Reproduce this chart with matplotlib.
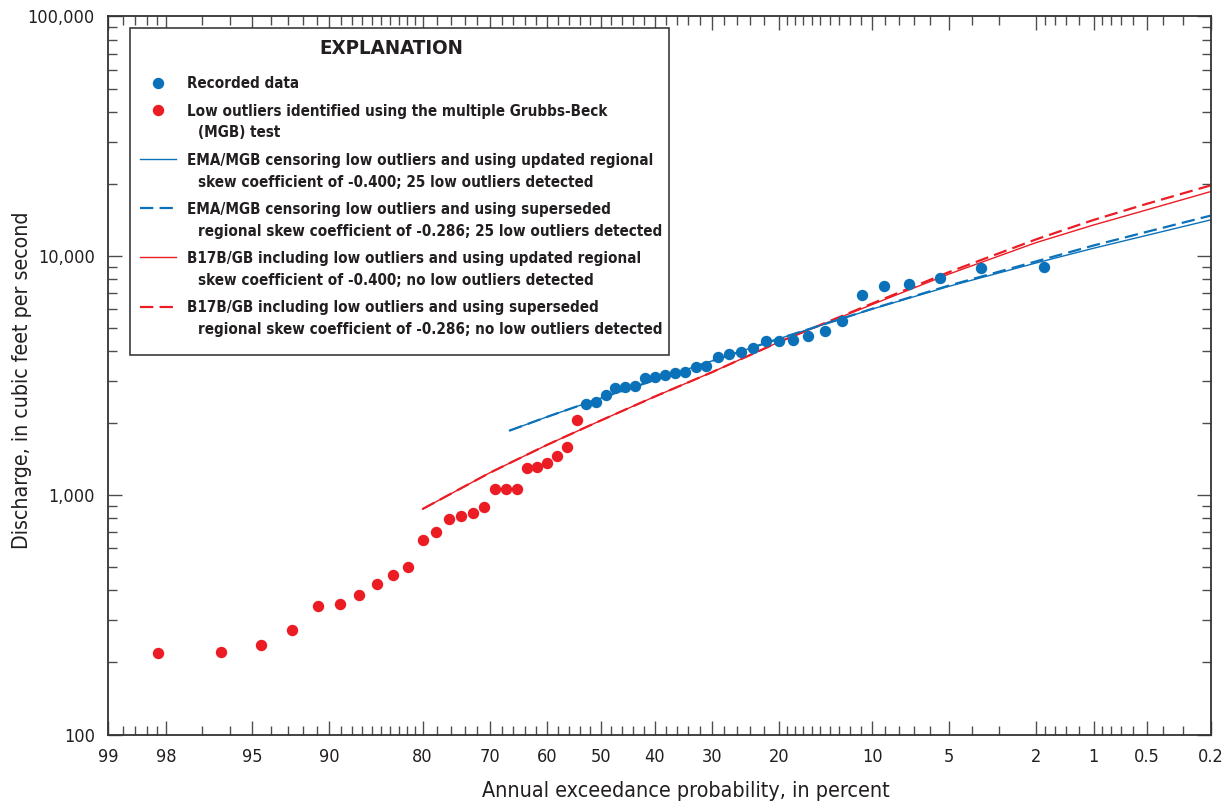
import math
import numpy as np
import matplotlib
matplotlib.use("Agg")
import matplotlib.pyplot as plt
from matplotlib import font_manager
from matplotlib.lines import Line2D
from matplotlib.patches import Rectangle
from matplotlib.ticker import FixedLocator, FixedFormatter, NullFormatter, LogLocator

# ---------------- data ----------------
# Low outliers (MGB) -- annual exceedance probability (percent) and discharge (ft3/s)
outlier_aep = [98.18, 96.36, 94.55, 92.73, 90.91, 89.09, 87.27, 85.45, 83.64, 81.82,
               80.00, 78.18, 76.36, 74.55, 72.73, 70.91, 69.09, 67.27, 65.45, 63.64,
               61.82, 60.00, 58.18, 56.36, 54.55]
outlier_q = [218, 221, 237, 273, 345, 350, 383, 424, 464, 503,
             648, 700, 798, 819, 843, 893, 1060, 1060, 1060, 1300,
             1310, 1360, 1460, 1590, 2070]

# Recorded data
recorded_aep = [52.73, 50.91, 49.09, 47.27, 45.45, 43.64, 41.82, 40.00, 38.18, 36.36,
                34.55, 32.73, 30.91, 29.09, 27.27, 25.45, 23.64, 21.82, 20.00, 18.18,
                16.36, 14.55, 12.73, 10.91, 9.09, 7.27, 5.45, 3.64, 1.82]
recorded_q = [2400, 2450, 2620, 2800, 2840, 2860, 3100, 3110, 3190, 3240,
              3260, 3440, 3480, 3790, 3900, 3960, 4130, 4410, 4410, 4450,
              4630, 4860, 5360, 6890, 7510, 7610, 8080, 8930, 8960]

# Frequency curves
ema_aep = [66.7, 60, 50, 40, 30, 20, 10, 5, 2, 1, 0.5, 0.2]
ema_updated_q = [1860, 2125, 2545, 3024, 3638, 4508, 5994, 7464, 9331, 10760, 12170, 14130]
ema_superseded_q = [1860, 2125, 2545, 3024, 3638, 4508, 6010, 7520, 9475, 11050, 12590, 14720]

b17_aep = [80, 70, 60, 50, 40, 30, 20, 10, 5, 2, 1, 0.5, 0.2]
b17_updated_q = [875, 1240, 1623, 2052, 2579, 3263, 4368, 6265, 8402, 11350, 13460, 15550, 18550]
b17_superseded_q = [875, 1240, 1623, 2052, 2579, 3263, 4368, 6326, 8564, 11710, 14130, 16480, 19690]

# Axis ticks
x_major = [99, 98, 95, 90, 80, 70, 60, 50, 40, 30, 20, 10, 5, 2, 1, 0.5, 0.2]
x_major_labels = ["99", "98", "95", "90", "80", "70", "60", "50", "40", "30", "20",
                  "10", "5", "2", "1", "0.5", "0.2"]
x_minor = [98.8, 98.6, 98.4, 98.2, 97, 96, 94, 93, 92, 91,
           89, 88, 87, 86, 85, 84, 83, 82, 81, 78, 76, 74, 72,
           68, 66, 64, 62, 58, 56, 54, 52, 48, 46, 44, 42, 38, 36, 34, 32,
           28, 26, 24, 22, 19, 18, 17, 16, 15, 14, 13, 12, 11,
           9, 8, 7, 6, 4, 3, 1.8, 1.6, 1.4, 1.2, 0.9, 0.8, 0.7, 0.6, 0.4, 0.3]
y_major = [100, 1000, 10000, 100000]
y_major_labels = ["100", "1,000", "10,000", "100,000"]

legend_title = "EXPLANATION"
legend_labels = [
    ["Recorded data"],
    ["Low outliers identified using the multiple Grubbs-Beck", "(MGB) test"],
    ["EMA/MGB censoring low outliers and using updated regional",
     "skew coefficient of -0.400; 25 low outliers detected"],
    ["EMA/MGB censoring low outliers and using superseded",
     "regional skew coefficient of -0.286; 25 low outliers detected"],
    ["B17B/GB including low outliers and using updated regional",
     "skew coefficient of -0.400; no low outliers detected"],
    ["B17B/GB including low outliers and using superseded",
     "regional skew coefficient of -0.286; no low outliers detected"],
]
x_label = "Annual exceedance probability, in percent"
y_label = "Discharge, in cubic feet per second"

# ---------------- style ----------------
BLUE = "#0b72b9"
RED = "#ec1c24"
TXT = "#231f20"

names = {f.name for f in font_manager.fontManager.ttflist}
if "Liberation Sans Narrow" in names:
    FONT, STRETCH = "Liberation Sans Narrow", "normal"
else:
    FONT, STRETCH = "DejaVu Sans", "condensed"
plt.rcParams["font.family"] = [FONT, "DejaVu Sans"]
plt.rcParams["font.stretch"] = STRETCH

# ---------------- normal-probability scale ----------------
_erfc = np.vectorize(math.erfc, otypes=[float])
_SQ2 = math.sqrt(2.0)


def _cdf(z):
    return 0.5 * _erfc(-np.asarray(z, dtype=float) / _SQ2)


def _ppf(q):
    q = np.asarray(q, dtype=float)
    lo = np.full(q.shape, -12.0)
    hi = np.full(q.shape, 12.0)
    for _ in range(55):
        mid = 0.5 * (lo + hi)
        below = _cdf(mid) < q
        lo = np.where(below, mid, lo)
        hi = np.where(below, hi, mid)
    return 0.5 * (lo + hi)


def forward(p):
    # increasing in p: standard normal quantile of p/100
    return _ppf(np.asarray(p, dtype=float) / 100.0)


def inverse(z):
    return 100.0 * _cdf(z)


# ---------------- figure ----------------
W, H = 1231, 805
fig = plt.figure(figsize=(W / 100, H / 100), dpi=100)


def fx(px):
    return px / W


def fy(py):
    return 1 - py / H


ax = fig.add_axes([fx(108), fy(734.5), fx(1210.6) - fx(108), fy(16.5) - fy(734.5)])
ax.set_xscale("function", functions=(forward, inverse))
ax.set_yscale("log")
ax.set_xlim(99, 0.2)
ax.set_ylim(100, 100000)

ax.plot(b17_aep, b17_updated_q, color=RED, lw=1.0, zorder=2)
ax.plot(b17_aep, b17_superseded_q, color=RED, lw=1.6, ls=(0, (6, 2.8)), zorder=2)
ax.plot(ema_aep, ema_updated_q, color=BLUE, lw=1.0, zorder=2)
ax.plot(ema_aep, ema_superseded_q, color=BLUE, lw=1.6, ls=(0, (6, 2.8)), zorder=2)

ax.plot(outlier_aep, outlier_q, ls="none", marker="o", ms=8.2, color=RED, mec="none", zorder=3)
ax.plot(recorded_aep, recorded_q, ls="none", marker="o", ms=8.2, color=BLUE, mec="none", zorder=3)

ax.xaxis.set_major_locator(FixedLocator(x_major))
ax.xaxis.set_major_formatter(FixedFormatter(x_major_labels))
ax.xaxis.set_minor_locator(FixedLocator(x_minor))
ax.xaxis.set_minor_formatter(NullFormatter())
ax.yaxis.set_major_locator(FixedLocator(y_major))
ax.yaxis.set_major_formatter(FixedFormatter(y_major_labels))
ax.yaxis.set_minor_locator(LogLocator(base=10, subs=np.arange(2, 10)))
ax.yaxis.set_minor_formatter(NullFormatter())

ax.tick_params(which="both", direction="in", top=True, right=True,
               color="#4d4d4d", width=1.0, labelsize=13, labelcolor=TXT, pad=9.5)
ax.tick_params(which="major", length=10)
ax.tick_params(which="minor", length=6.5)
for s in ax.spines.values():
    s.set_linewidth(1.3)
    s.set_color("#333333")

fig.text(fx(686), fy(791), x_label, ha="center", va="center", fontsize=15.4, color=TXT)
fig.text(fx(22), fy(380), y_label, ha="center", va="center", rotation=90,
         fontsize=15.3, color=TXT)

# ---------------- explanation box ----------------
fig.add_artist(Rectangle((fx(129.6), fy(355)), fx(669) - fx(129.6), fy(28) - fy(355),
                         transform=fig.transFigure, facecolor="white",
                         edgecolor="#3c3c3c", lw=1.2, zorder=5))
fig.text(fx(391), fy(49), legend_title, ha="center", va="center", fontsize=14.7,
         fontweight="bold", color=TXT, zorder=6)

row_y = [[82.7], [110, 131.7], [159, 181.7], [208.3, 230.7], [257.3, 279.3], [306.7, 328.3]]
for lines, ys in zip(legend_labels, row_y):
    for i, (t, yy) in enumerate(zip(lines, ys)):
        fig.text(fx(187 if i == 0 else 197.5), fy(yy + 5.5), t, ha="left", va="baseline",
                 fontsize=10.9, fontweight="bold", color=TXT, zorder=6)

handle_specs = [
    dict(kind="marker", color=BLUE),
    dict(kind="marker", color=RED),
    dict(kind="line", color=BLUE, lw=1.0, ls="-"),
    dict(kind="line", color=BLUE, lw=1.6, ls=(0, (6, 2.8))),
    dict(kind="line", color=RED, lw=1.0, ls="-"),
    dict(kind="line", color=RED, lw=1.6, ls=(0, (6, 2.8))),
]
for spec, ys in zip(handle_specs, row_y):
    yy = fy(ys[0])
    if spec["kind"] == "marker":
        fig.add_artist(Line2D([fx(157.5)], [yy], ls="none", marker="o", ms=8.2,
                              color=spec["color"], mec="none",
                              transform=fig.transFigure, zorder=6))
    else:
        fig.add_artist(Line2D([fx(139.6), fx(176.4)], [yy, yy], color=spec["color"],
                              lw=spec["lw"], ls=spec["ls"],
                              transform=fig.transFigure, zorder=6))

fig.savefig("out.png", dpi=100)
